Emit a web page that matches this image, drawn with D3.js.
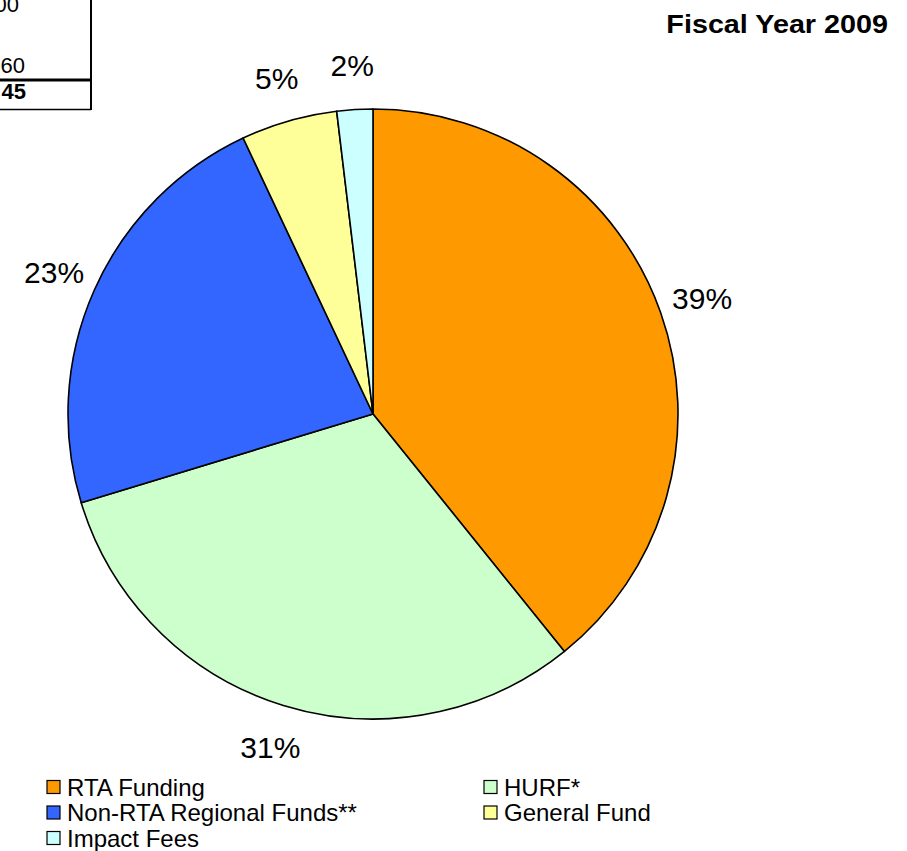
<!DOCTYPE html>
<html>
<head>
<meta charset="utf-8">
<script src="https://cdn.jsdelivr.net/npm/d3@7"></script>
<style>
  html, body { margin: 0; padding: 0; background: #fff; }
  svg { display: block; font-family: "Liberation Sans", Arial, sans-serif; }
</style>
</head>
<body>
<svg id="chart" width="907" height="851"></svg>
<script>
const title = "Fiscal Year 2009";
const categories = ["RTA Funding", "HURF*", "Non-RTA Regional Funds**", "General Fund", "Impact Fees"];
const values = [39.2, 31.1, 22.7, 5.1, 1.9];
const colors = ["#FF9900", "#CCFFCC", "#3366FF", "#FFFF99", "#CCFFFF"];
const tableTexts = ["00", "60", "45"];

const svg = d3.select("#chart");
const cx = 373, cy = 414, r = 305;

// Fragment of a table at top-left
const tbl = svg.append("g");
tbl.append("line").attr("x1", 91).attr("x2", 91).attr("y1", 0).attr("y2", 110)
  .attr("stroke", "#000").attr("stroke-width", 2);
tbl.append("line").attr("x1", 0).attr("x2", 91).attr("y1", 80).attr("y2", 80)
  .attr("stroke", "#000").attr("stroke-width", 3);
tbl.append("line").attr("x1", 0).attr("x2", 91).attr("y1", 109.5).attr("y2", 109.5)
  .attr("stroke", "#000").attr("stroke-width", 1.5);
tbl.append("text").attr("x", 19).attr("y", 12).attr("text-anchor", "end")
  .attr("font-size", 22).text(tableTexts[0]);
tbl.append("text").attr("x", 25).attr("y", 73).attr("text-anchor", "end")
  .attr("font-size", 22).text(tableTexts[1]);
tbl.append("text").attr("x", 26).attr("y", 99).attr("text-anchor", "end")
  .attr("font-size", 22).attr("font-weight", "bold").text(tableTexts[2]);

// Title
svg.append("text")
  .attr("transform", "translate(888,33) scale(1.15,1)")
  .attr("text-anchor", "end")
  .attr("font-size", 25).attr("font-weight", "bold").text(title);

// Pie
const total = d3.sum(values);
const pie = d3.pie().sort(null).value(d => d)(values);
const arc = d3.arc().innerRadius(0).outerRadius(r);
const labelArc = d3.arc().innerRadius(349).outerRadius(349);

const g = svg.append("g").attr("transform", `translate(${cx},${cy})`);
g.selectAll("path.slice").data(pie).join("path")
  .attr("class", "slice")
  .attr("d", arc)
  .attr("fill", (d, i) => colors[i])
  .attr("stroke", "#000")
  .attr("stroke-width", 1.6)
  .attr("stroke-linejoin", "round");

g.selectAll("text.lbl").data(pie).join("text")
  .attr("class", "lbl")
  .attr("transform", d => `translate(${labelArc.centroid(d)})`)
  .attr("text-anchor", "middle")
  .attr("dy", "0.36em")
  .attr("font-size", 30)
  .text(d => Math.round(d.data / total * 100) + "%");

// Legend
const legX = [47, 484];
const legY = [787, 812.5, 838];
const leg = svg.append("g");
categories.forEach((c, i) => {
  const col = i % 2, row = Math.floor(i / 2);
  const x = legX[col], y = legY[row];
  leg.append("rect").attr("x", x).attr("y", y - 6.5).attr("width", 13).attr("height", 13)
    .attr("fill", colors[i]).attr("stroke", "#000").attr("stroke-width", 1.2);
  leg.append("text").attr("x", x + 20).attr("y", y).attr("dy", "0.36em")
    .attr("font-size", 24).text(c);
});
</script>
</body>
</html>
